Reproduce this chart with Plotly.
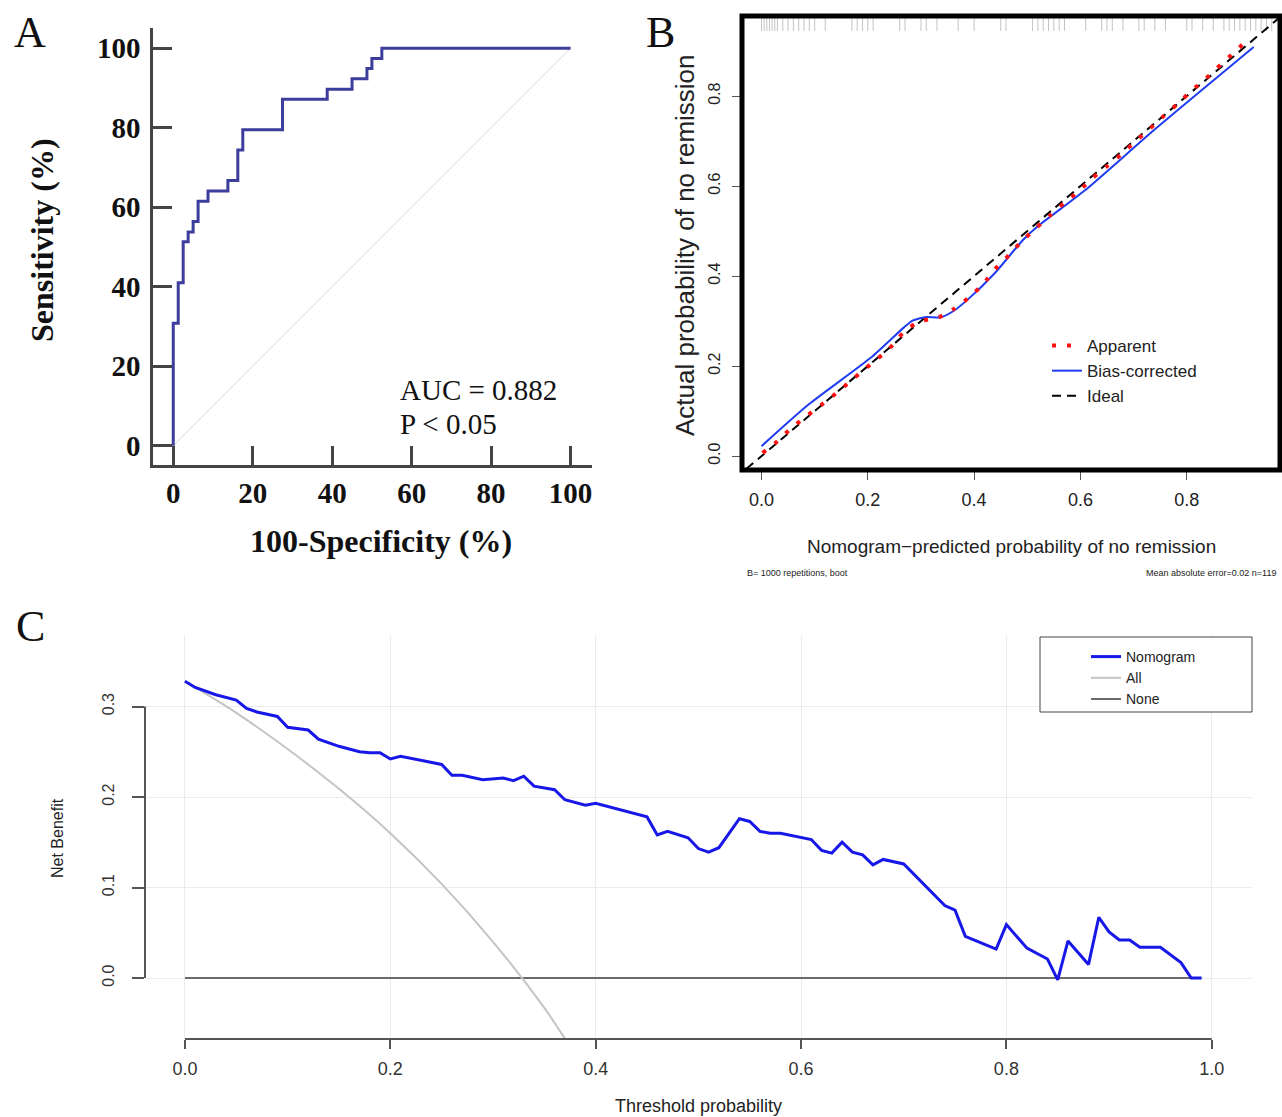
import plotly.graph_objects as go

W, H = 1282, 1117

# ---------------- Panel A: ROC curve ----------------
roc_fpr = [0, 0, 1.25, 2.5, 3.75, 5.0, 6.25, 8.75, 13.75, 16.25, 17.5, 27.5, 38.75, 45.0, 48.75, 50.0, 52.5, 100]
roc_tpr = [0, 30.8, 41.0, 51.3, 53.8, 56.4, 61.5, 64.1, 66.7, 74.4, 79.5, 87.2, 89.7, 92.3, 94.9, 97.4, 100, 100]
roc_ticks = [0, 20, 40, 60, 80, 100]

# ---------------- Panel B: calibration ----------------
bias_x = [0.0, 0.089, 0.206, 0.268, 0.284, 0.31, 0.336, 0.362, 0.391, 0.44, 0.491, 0.517, 0.608, 0.738, 0.926]
bias_y = [0.022, 0.115, 0.219, 0.286, 0.301, 0.309, 0.308, 0.323, 0.351, 0.408, 0.479, 0.508, 0.59, 0.724, 0.909]
app_x = [0.002, 0.03, 0.057, 0.083, 0.112, 0.14, 0.166, 0.193, 0.22, 0.247, 0.271, 0.3, 0.333, 0.362,
         0.391, 0.417, 0.44, 0.466, 0.491, 0.516, 0.543, 0.569, 0.598, 0.621, 0.65, 0.678, 0.704, 0.731,
         0.757, 0.785, 0.81, 0.837, 0.864, 0.89, 0.916]
app_y = [0.007, 0.033, 0.063, 0.087, 0.113, 0.139, 0.165, 0.192, 0.218, 0.247, 0.28, 0.3, 0.308, 0.327,
         0.353, 0.382, 0.416, 0.447, 0.479, 0.506, 0.535, 0.562, 0.59, 0.616, 0.644, 0.672, 0.7, 0.728,
         0.756, 0.785, 0.813, 0.84, 0.87, 0.898, 0.927]
ideal_xy = [-0.05, 1.0]
rug_x = [0.0, 0.005, 0.01, 0.015, 0.02, 0.025, 0.03, 0.04, 0.05, 0.06, 0.07, 0.08, 0.09, 0.10, 0.12,
         0.17, 0.18, 0.19, 0.20, 0.21, 0.26, 0.27, 0.30, 0.31, 0.33, 0.37, 0.40, 0.45, 0.46, 0.51,
         0.52, 0.53, 0.54, 0.55, 0.56, 0.57, 0.61, 0.64, 0.65, 0.66, 0.68, 0.71, 0.72, 0.74, 0.76,
         0.80, 0.81, 0.83, 0.85, 0.87, 0.88, 0.89, 0.90, 0.91, 0.92, 0.93, 0.94, 0.95, 0.96]
cal_ticks = [0.0, 0.2, 0.4, 0.6, 0.8]

# ---------------- Panel C: decision curve ----------------
dca_x = [0, .01, .03, .05, .06, .07, .09, .10, .12, .13, .15, .17, .18, .19, .20, .21, .25, .26, .27,
         .29, .31, .32, .33, .34, .36, .37, .39, .40, .45, .46, .47, .49, .50, .51, .52, .54, .55, .56,
         .57, .58, .61, .62, .63, .64, .65, .66, .67, .68, .70, .74, .75, .76, .79, .80, .82, .84, .85,
         .86, .88, .89, .90, .91, .92, .93, .95, .97, .98, .99]
dca_nomo = [.328, .321, .313, .307, .298, .294, .289, .277, .274, .264, .256, .250, .249, .249, .242,
            .245, .236, .224, .224, .219, .221, .218, .223, .212, .208, .197, .191, .193, .178, .158,
            .162, .155, .143, .139, .144, .176, .173, .162, .160, .160, .153, .141, .138, .150, .139,
            .136, .125, .131, .126, .080, .075, .046, .032, .059, .033, .021, -.002, .041, .015, .067,
            .051, .042, .042, .034, .034, .017, .000, .000]
all_x = [0, 0.05, 0.10, 0.15, 0.20, 0.25, 0.30, 0.35, 0.37]
all_y = [0.328, 0.293, 0.253, 0.209, 0.160, 0.104, 0.040, -0.033, -0.067]
none_x = [0, 0.99]
none_y = [0, 0]
dca_xticks = [0.0, 0.2, 0.4, 0.6, 0.8, 1.0]
dca_yticks = [0.0, 0.1, 0.2, 0.3]

SERIF = "Liberation Serif, Times New Roman, serif"
SANS = "Liberation Sans, Arial, sans-serif"


def fx(p):
    return p / W


def fy(p):
    return 1 - p / H


fig = go.Figure()

# --- A
fig.add_trace(go.Scatter(x=[0, 100], y=[0, 100], mode="lines", xaxis="x", yaxis="y",
                         line=dict(color="#dcdcdc", width=1), showlegend=False, hoverinfo="skip"))
fig.add_trace(go.Scatter(x=roc_fpr, y=roc_tpr, mode="lines", xaxis="x", yaxis="y",
                         line=dict(color="#3d3d9e", width=3, shape="hv"), showlegend=False))

# --- B
fig.add_trace(go.Scatter(x=rug_x, y=[0.962] * len(rug_x), mode="markers", xaxis="x2", yaxis="y2",
                         marker=dict(symbol="line-ns", size=11, line=dict(color="#c4c4c4", width=1)),
                         showlegend=False, hoverinfo="x"))
fig.add_trace(go.Scatter(x=ideal_xy, y=ideal_xy, mode="lines", xaxis="x2", yaxis="y2", name="Ideal",
                         legend="legend", legendrank=3,
                         line=dict(color="black", width=2, dash="9px,6px")))
fig.add_trace(go.Scatter(x=bias_x, y=bias_y, mode="lines", xaxis="x2", yaxis="y2", name="Bias-corrected",
                         legend="legend", legendrank=2,
                         line=dict(color="#1f3cf0", width=2, shape="spline", smoothing=0.6)))
fig.add_trace(go.Scatter(x=app_x, y=app_y, mode="lines", xaxis="x2", yaxis="y2", name="Apparent",
                         legend="legend", legendrank=1,
                         line=dict(color="#ff1010", width=4, dash="4px,11px", shape="spline", smoothing=0.6)))

# --- C
fig.add_trace(go.Scatter(x=none_x, y=none_y, mode="lines", xaxis="x3", yaxis="y3", name="None",
                         legend="legend2", legendrank=3, line=dict(color="#6b6b6b", width=2)))
fig.add_trace(go.Scatter(x=all_x, y=all_y, mode="lines", xaxis="x3", yaxis="y3", name="All",
                         legend="legend2", legendrank=2,
                         line=dict(color="#c4c4c4", width=2, shape="spline", smoothing=0.8)))
fig.add_trace(go.Scatter(x=dca_x, y=dca_nomo, mode="lines", xaxis="x3", yaxis="y3", name="Nomogram",
                         legend="legend2", legendrank=1, line=dict(color="#1717e8", width=3)))

axA = dict(showline=True, linewidth=2.5, linecolor="#444", ticks="inside", ticklen=19, tickwidth=2.5,
           tickcolor="#444", showgrid=False, zeroline=False, tickvals=roc_ticks,
           tickfont=dict(family=SERIF, size=29, color="#111", weight="bold"))
axB = dict(showline=False, ticks="outside", ticklen=9, tickwidth=1, tickcolor="#555", showgrid=False,
           zeroline=False, tickvals=cal_ticks, ticktext=[f"{v:.1f}" for v in cal_ticks])
axC = dict(showline=False, ticks="outside", tickwidth=1.5, tickcolor="#555", showgrid=True,
           gridcolor="#ececec", gridwidth=1, zeroline=False)

fig.update_layout(
    width=W, height=H, margin=dict(l=0, r=0, t=0, b=0),
    paper_bgcolor="white", plot_bgcolor="white",
    xaxis=dict(axA, domain=[fx(153), fx(592)], range=[-5.1, 105.4], anchor="y"),
    yaxis=dict(axA, domain=[fy(465), fy(28)], range=[-4.85, 105.1], anchor="x", ticklabelstandoff=4),
    xaxis2=dict(axB, domain=[fx(742), fx(1280)], range=[-0.0367, 0.9755], anchor="y2",
                ticklabelstandoff=4, tickfont=dict(family=SANS, size=18, color="#222")),
    yaxis2=dict(axB, domain=[fy(470), fy(16)], range=[-0.031, 0.978], anchor="x2", tickangle=-90,
                ticklabelstandoff=6, tickfont=dict(family=SANS, size=16, color="#222")),
    xaxis3=dict(axC, domain=[fx(145), fx(1252)], range=[-0.0389, 1.0392], anchor="y3", ticklen=9,
                tickvals=dca_xticks, ticktext=[f"{v:.1f}" for v in dca_xticks], ticklabelstandoff=4,
                tickfont=dict(family=SANS, size=18, color="#333")),
    yaxis3=dict(axC, domain=[fy(1039), fy(635)], range=[-0.0674, 0.379], anchor="x3", ticklen=12,
                tickvals=dca_yticks, ticktext=[f"{v:.1f}" for v in dca_yticks], tickangle=-90,
                ticklabelstandoff=12, tickfont=dict(family=SANS, size=16, color="#333")),
    legend=dict(x=fx(1047), y=fy(328), xanchor="left", yanchor="top", bgcolor="rgba(0,0,0,0)",
                font=dict(family=SANS, size=17, color="#222"), tracegroupgap=0),
    legend2=dict(x=fx(1086), y=fy(641), xanchor="left", yanchor="top", bgcolor="rgba(0,0,0,0)",
                 font=dict(family=SANS, size=14, color="#222"), tracegroupgap=0),
    showlegend=True,
)

shapes = [
    # B thick frame
    dict(type="rect", xref="x2 domain", yref="y2 domain", x0=0, x1=1, y0=0, y1=1,
         line=dict(color="black", width=5)),
    # C axis lines (R style, only over tick span)
    dict(type="line", xref="x3", yref="y3 domain", x0=0, x1=1, y0=0, y1=0,
         line=dict(color="#555", width=2)),
    dict(type="line", xref="x3 domain", yref="y3", x0=0, x1=0, y0=0, y1=0.3,
         line=dict(color="#555", width=2)),
    # C legend box
    dict(type="rect", xref="paper", yref="paper", x0=fx(1040), x1=fx(1252), y0=fy(712), y1=fy(637),
         line=dict(color="#444", width=1), fillcolor="white", layer="above"),
]
fig.update_layout(shapes=shapes)


def txt(x, y, s, size, family, color="#111", angle=0, anchor="center", weight="normal"):
    fig.add_annotation(x=fx(x), y=fy(y), xref="paper", yref="paper", text=s, showarrow=False,
                       xanchor=anchor, yanchor="middle", textangle=angle,
                       font=dict(family=family, size=size, color=color, weight=weight))


# panel letters
txt(30, 32, "A", 44, SERIF)
txt(660, 32, "B", 44, SERIF)
txt(30, 626, "C", 44, SERIF)

# A texts
txt(42, 240, "Sensitivity (%)", 32, SERIF, angle=-90, weight="bold")
txt(381, 541, "100-Specificity (%)", 32, SERIF, weight="bold")
txt(398, 390, "AUC = 0.882", 29, SERIF, anchor="left")
txt(398, 424, "P &lt; 0.05", 29, SERIF, anchor="left")

# B texts
txt(685, 245, "Actual probability of no remission", 26, SANS, color="#222", angle=-90)
txt(1011, 546, "Nomogram\u2212predicted probability of no remission", 19, SANS, color="#222")
txt(745, 573, "B= 1000 repetitions, boot", 9, SANS, color="#222", anchor="left")
txt(1278, 573, "Mean absolute error=0.02 n=119", 9, SANS, color="#222", anchor="right")

# C texts
txt(57, 838, "Net Benefit", 16, SANS, color="#222", angle=-90)
txt(698, 1106, "Threshold probability", 18, SANS, color="#222")

fig.write_html("out.html", config={"displayModeBar": False},
               post_script="document.body.style.margin='0px';")
